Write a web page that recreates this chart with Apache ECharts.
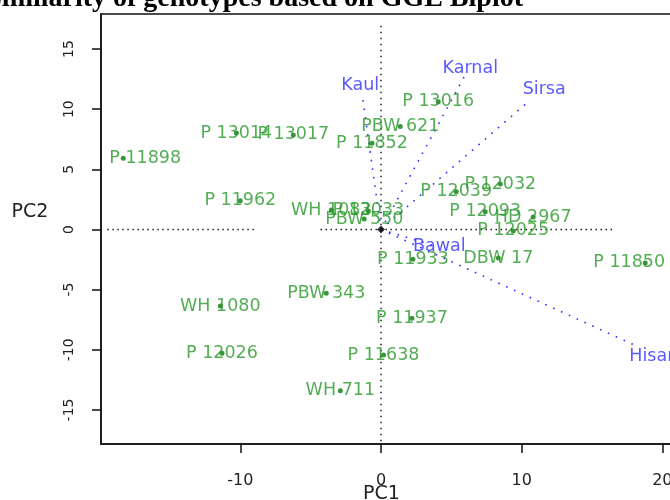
<!DOCTYPE html>
<html>
<head>
<meta charset="utf-8">
<script src="https://cdn.jsdelivr.net/npm/echarts@6/dist/echarts.min.js"></script>
<style>
  html, body { margin: 0; padding: 0; background: #fff; }
  #chart { width: 670px; height: 500px; }
</style>
</head>
<body>
<div id="chart"></div>
<script>
// Genotype scores on the first two principal components
const genotypes = ['P 11898', 'P 13014', 'P 13017', 'P 11962', 'WH 1083', 'P 12033', 'PBW 550',
  'PBW 621', 'P 11852', 'P 13016', 'P 12032', 'P 12039', 'P 12093', 'HD 2967', 'P 12025',
  'P 11933', 'DBW 17', 'P 11850', 'P 11937', 'P 11638', 'PBW 343', 'WH 1080', 'P 12026', 'WH 711'];
const genoPC1 = [-18.32, -10.28, -6.23, -10.0, -3.53, -0.9, -1.19,
  1.37, -0.64, 4.07, 8.48, 5.35, 7.41, 10.82, 9.4,
  2.27, 8.34, 18.78, 2.2, 0.18, -3.89, -11.42, -11.3, -2.89];
const genoPC2 = [5.92, 8.02, 7.86, 2.39, 1.62, 1.54, 0.87,
  8.55, 7.17, 10.62, 3.78, 3.14, 1.48, 1.04, -0.12,
  -2.48, -2.37, -2.78, -7.38, -10.43, -5.3, -6.36, -10.29, -13.4];

// Environment vectors (tip of each vector) and where their names sit
const envNames = ['Kaul', 'Karnal', 'Sirsa', 'Bawal', 'Hisar'];
const envPC1 = [-1.28, 6.06, 10.61, 3.7, 18.15];
const envPC2 = [10.76, 13.0, 10.76, -1.33, -9.68];
const envLabelPC1 = [-1.47, 6.35, 11.6, 4.15, 19.25];
const envLabelPC2 = [11.93, 13.4, 11.6, -1.43, -10.57];

// Dotted reference lines through the origin
const hRefSegments = [[-19.45, -8.8], [-4.3, 16.45]];
const vRefSpan = [-17.6, 17.0];

// Axis ticks and ranges
const xTicks = [-10, 0, 10, 20];
const yTicks = [-15, -10, -5, 0, 5, 10, 15];
const xRange = [-19.9, 22];
const yRange = [-17.83, 17.91];

// Labels near the frame are pulled inward (pixels)
const labelNudge = { 'P 11898': [22, 0], 'P 11850': [-16, 0] };

const GREEN_TEXT = '#29992b';
const GREEN_DOT = '#0b7a0b';
const BLUE = '#3030ff';
const FONT = 'DejaVu Sans';

const chart = echarts.init(document.getElementById('chart'), null, { renderer: 'canvas' });

const series = [];

// horizontal dotted reference line (drawn in pieces)
hRefSegments.forEach(seg => {
  series.push({
    type: 'line', silent: true, symbol: 'none', z: 1,
    data: [[seg[0], 0], [seg[1], 0]],
    lineStyle: { color: '#222', width: 1.5, type: [1.5, 3.5] }
  });
});
// vertical dotted reference line
series.push({
  type: 'line', silent: true, symbol: 'none', z: 1,
  data: [[0, vRefSpan[0]], [0, vRefSpan[1]]],
  lineStyle: { color: '#222', width: 1.5, type: [1.5, 4.5] }
});

// environment vectors
envNames.forEach((n, i) => {
  series.push({
    type: 'line', silent: true, symbol: 'none', z: 2,
    data: [[0, 0], [envPC1[i], envPC2[i]]],
    lineStyle: { color: BLUE, width: 1.6, type: [1.6, 7] }
  });
});

// environment names
series.push({
  type: 'scatter', silent: true, z: 3, symbolSize: 0,
  data: envNames.map((n, i) => ({ name: n, value: [envLabelPC1[i], envLabelPC2[i]] })),
  label: {
    show: true, position: 'inside', formatter: '{b}',
    color: BLUE, fontFamily: FONT, fontSize: 17.5
  }
});

// origin marker
series.push({
  type: 'scatter', silent: true, z: 4, symbol: 'diamond', symbolSize: 8,
  data: [[0, 0]], itemStyle: { color: '#000' }
});

// genotype points with their names
series.push({
  type: 'scatter', silent: true, z: 5, symbol: 'circle', symbolSize: 5,
  itemStyle: { color: GREEN_DOT },
  data: genotypes.map((n, i) => ({ name: n, value: [genoPC1[i], genoPC2[i]] })),
  label: {
    show: true, position: 'inside', formatter: '{b}',
    color: GREEN_TEXT, fontFamily: FONT, fontSize: 17.5
  },
  labelLayout: function (p) {
    const shift = labelNudge[genotypes[p.dataIndex]];
    return shift ? { dx: shift[0], dy: shift[1], hideOverlap: false } : { hideOverlap: false };
  }
});

const axisCommon = {
  type: 'value',
  splitLine: { show: false },
  axisLine: { show: true, onZero: false, lineStyle: { color: '#111', width: 1.5 } },
  axisTick: { show: true, length: 9, lineStyle: { color: '#111', width: 1.5 } }
};

chart.setOption({
  animation: false,
  backgroundColor: '#fff',
  grid: {
    left: 101, top: 14, bottom: 56, right: -20.5,
    outerBoundsMode: 'none',
    show: true, borderColor: '#111', borderWidth: 1.5, backgroundColor: 'transparent'
  },
  xAxis: Object.assign({}, axisCommon, {
    min: xRange[0], max: xRange[1],
    axisTick: Object.assign({}, axisCommon.axisTick, { customValues: xTicks }),
    axisLabel: {
      customValues: xTicks, margin: 29,
      color: '#222', fontFamily: FONT, fontSize: 16
    }
  }),
  yAxis: Object.assign({}, axisCommon, {
    min: yRange[0], max: yRange[1],
    axisTick: Object.assign({}, axisCommon.axisTick, { customValues: yTicks }),
    axisLabel: {
      customValues: yTicks, margin: 25, rotate: 90,
      color: '#222', fontFamily: FONT, fontSize: 14
    }
  }),
  graphic: [
    {
      type: 'text', x: 523, y: -1.5, z: 10,
      style: {
        text: 'Similarity of genotypes based on GGE Biplot',
        font: 'bold 28px "Liberation Serif"', fill: '#000',
        align: 'right', verticalAlign: 'middle'
      }
    },
    {
      type: 'text', x: 381.5, y: 485, z: 10,
      style: {
        text: 'PC1', font: '19px "DejaVu Sans"', fill: '#222',
        align: 'center', verticalAlign: 'top'
      }
    },
    {
      type: 'text', x: 30, y: 212, z: 10,
      style: {
        text: 'PC2', font: '19px "DejaVu Sans"', fill: '#222',
        align: 'center', verticalAlign: 'middle'
      }
    }
  ],
  series: series
});
</script>
</body>
</html>
